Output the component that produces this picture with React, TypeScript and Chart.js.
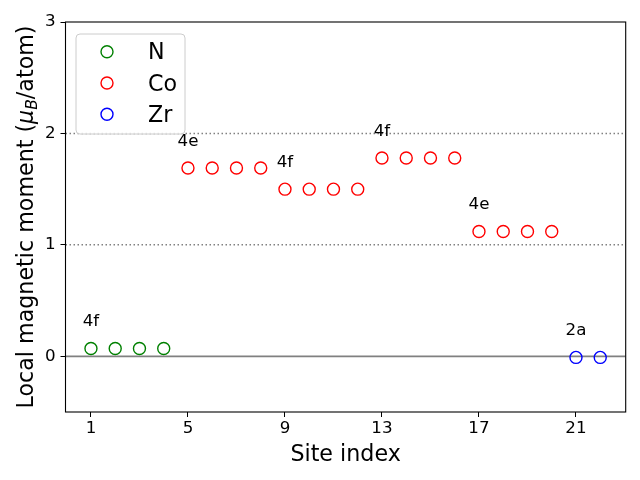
import { useEffect, useRef } from 'react';
import { Chart, registerables } from 'chart.js';

Chart.register(...registerables);

const nSites = [1, 2, 3, 4];
const nMoments = [0.07, 0.07, 0.07, 0.07];
const coSites = [5, 6, 7, 8, 9, 10, 11, 12, 13, 14, 15, 16, 17, 18, 19, 20];
const coMoments = [1.69, 1.69, 1.69, 1.69, 1.5, 1.5, 1.5, 1.5, 1.78, 1.78, 1.78, 1.78, 1.12, 1.12, 1.12, 1.12];
const zrSites = [21, 22];
const zrMoments = [-0.01, -0.01];

const xTicks = [1, 5, 9, 13, 17, 21];
const yTicks = [0, 1, 2, 3];
const wyckoffLabels = ['4f', '4e', '4f', '4f', '4e', '2a'];
const wyckoffSites = [1, 5, 9, 13, 17, 21];
const solidLines = [0];
const dottedLines = [1, 2];

const legendNames = ['N', 'Co', 'Zr'];
const legendColors = ['green', 'red', 'blue'];

const FONT = "'DejaVu Sans', sans-serif";

const toPoints = (xs: number[], ys: number[]) => xs.map((x, i) => ({ x, y: ys[i] }));

const allSites = [...nSites, ...coSites, ...zrSites];
const allMoments = [...nMoments, ...coMoments, ...zrMoments];

const customPlugin = {
  id: 'custom',
  beforeDatasetsDraw(chart: any) {
    const { ctx, chartArea, scales } = chart;
    const { left, right, top, bottom } = chartArea;
    ctx.save();
    ctx.beginPath();
    ctx.rect(left, top, right - left, bottom - top);
    ctx.clip();
    ctx.strokeStyle = 'gray';
    solidLines.forEach((v) => {
      const y = scales.y.getPixelForValue(v);
      ctx.lineWidth = 1.8;
      ctx.setLineDash([]);
      ctx.beginPath();
      ctx.moveTo(left, y);
      ctx.lineTo(right, y);
      ctx.stroke();
    });
    dottedLines.forEach((v) => {
      const y = scales.y.getPixelForValue(v);
      ctx.lineWidth = 1.5;
      ctx.setLineDash([1.5, 2.5]);
      ctx.beginPath();
      ctx.moveTo(left, y);
      ctx.lineTo(right, y);
      ctx.stroke();
    });
    ctx.restore();
  },
  afterDraw(chart: any) {
    const { ctx, chartArea, scales } = chart;
    const { left, right, top, bottom } = chartArea;
    ctx.save();
    // frame
    ctx.strokeStyle = 'black';
    ctx.lineWidth = 1.1;
    ctx.setLineDash([]);
    ctx.strokeRect(left, top, right - left, bottom - top);

    // annotations
    ctx.fillStyle = 'black';
    ctx.font = `16.7px ${FONT}`;
    ctx.textAlign = 'center';
    ctx.textBaseline = 'alphabetic';
    wyckoffLabels.forEach((lab, i) => {
      const sx = wyckoffSites[i];
      const idx = allSites.indexOf(sx);
      const val = allMoments[idx];
      ctx.fillText(lab, scales.x.getPixelForValue(sx), scales.y.getPixelForValue(val + 0.2));
    });

    // x title
    ctx.font = `22.2px ${FONT}`;
    ctx.textAlign = 'center';
    ctx.fillText('Site index', (left + right) / 2, 460.5);

    // y title
    ctx.save();
    ctx.translate(33, (top + bottom) / 2);
    ctx.rotate(-Math.PI / 2);
    const parts = [
      { t: 'Local magnetic moment (', f: `22.2px ${FONT}`, dy: 0 },
      { t: 'μ', f: `italic 22.2px ${FONT}`, dy: 0 },
      { t: 'B', f: `italic 15.5px ${FONT}`, dy: 4 },
      { t: '/atom)', f: `22.2px ${FONT}`, dy: 0 },
    ];
    let total = 0;
    parts.forEach((p) => {
      ctx.font = p.f;
      total += ctx.measureText(p.t).width;
    });
    let cx = -total / 2;
    ctx.textAlign = 'left';
    parts.forEach((p) => {
      ctx.font = p.f;
      ctx.fillText(p.t, cx, p.dy);
      cx += ctx.measureText(p.t).width;
    });
    ctx.restore();

    // legend
    const lx = 76, ly = 34, lw = 109, lh = 100, r = 4;
    ctx.beginPath();
    ctx.moveTo(lx + r, ly);
    ctx.lineTo(lx + lw - r, ly);
    ctx.arcTo(lx + lw, ly, lx + lw, ly + r, r);
    ctx.lineTo(lx + lw, ly + lh - r);
    ctx.arcTo(lx + lw, ly + lh, lx + lw - r, ly + lh, r);
    ctx.lineTo(lx + r, ly + lh);
    ctx.arcTo(lx, ly + lh, lx, ly + lh - r, r);
    ctx.lineTo(lx, ly + r);
    ctx.arcTo(lx, ly, lx + r, ly, r);
    ctx.closePath();
    ctx.fillStyle = 'rgba(255,255,255,0.8)';
    ctx.fill();
    ctx.strokeStyle = '#cccccc';
    ctx.lineWidth = 1;
    ctx.stroke();
    legendNames.forEach((name, i) => {
      const ry = 51.7 + i * 31.3;
      ctx.beginPath();
      ctx.arc(107, ry, 6, 0, Math.PI * 2);
      ctx.strokeStyle = legendColors[i];
      ctx.lineWidth = 1.4;
      ctx.stroke();
      ctx.fillStyle = 'black';
      ctx.font = `22.2px ${FONT}`;
      ctx.textAlign = 'left';
      ctx.fillText(name, 148, ry + 7.5);
    });
    ctx.restore();
  },
};

export default function App() {
  const ref = useRef<HTMLCanvasElement>(null);
  useEffect(() => {
    if (!ref.current) return;
    const mk = (label: string, xs: number[], ys: number[], color: string) => ({
      label,
      data: toPoints(xs, ys),
      borderColor: color,
      backgroundColor: 'rgba(0,0,0,0)',
      pointRadius: 6,
      pointBorderWidth: 1.4,
      pointStyle: 'circle',
      showLine: false,
    });
    const chart = new Chart(ref.current, {
      type: 'scatter',
      data: {
        datasets: [
          mk('N', nSites, nMoments, 'green'),
          mk('Co', coSites, coMoments, 'red'),
          mk('Zr', zrSites, zrMoments, 'blue'),
        ],
      },
      options: {
        responsive: false,
        animation: false,
        devicePixelRatio: 1,
        layout: { padding: { left: 0, right: 14.3, top: 22, bottom: 0 } },
        plugins: { legend: { display: false }, tooltip: { enabled: false } },
        scales: {
          x: {
            type: 'linear',
            min: -0.05,
            max: 23.05,
            afterBuildTicks: (s: any) => {
              s.ticks = xTicks.map((v) => ({ value: v }));
            },
            afterFit: (s: any) => {
              s.height = 68;
            },
            ticks: {
              color: 'black',
              font: { family: FONT, size: 16.7 },
              padding: 2,
              maxRotation: 0,
              autoSkip: false,
              callback: (v: any) => String(v),
            },
            grid: { drawOnChartArea: false, drawTicks: true, tickLength: 5, color: 'black', lineWidth: 1 },
            border: { display: false },
          },
          y: {
            type: 'linear',
            min: -0.5,
            max: 3,
            afterBuildTicks: (s: any) => {
              s.ticks = yTicks.map((v) => ({ value: v }));
            },
            afterFit: (s: any) => {
              s.width = 65.5;
            },
            ticks: {
              color: 'black',
              font: { family: FONT, size: 16.7 },
              padding: 5,
              autoSkip: false,
              callback: (v: any) => String(v),
            },
            grid: { drawOnChartArea: false, drawTicks: true, tickLength: 5, color: 'black', lineWidth: 1 },
            border: { display: false },
          },
        },
      },
      plugins: [customPlugin],
    });
    return () => chart.destroy();
  }, []);
  return (
    <div style={{ position: 'fixed', left: 0, top: 0, width: 640, height: 480, background: 'white' }}>
      <canvas ref={ref} width={640} height={480} style={{ width: 640, height: 480 }} />
    </div>
  );
}
